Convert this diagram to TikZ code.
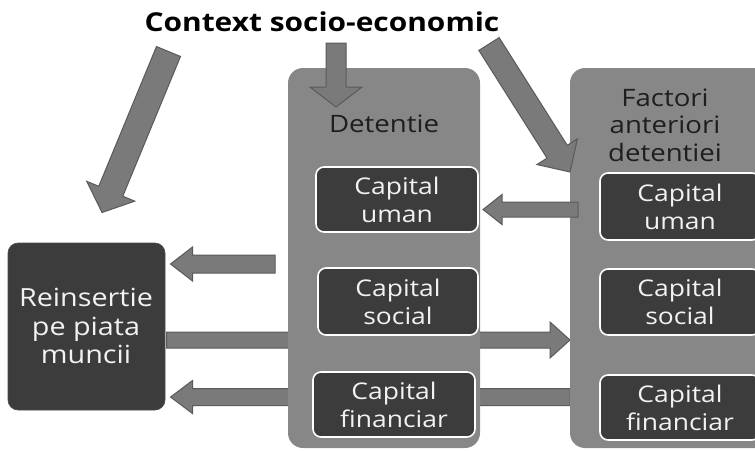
\documentclass[tikz,border=0pt]{standalone}
\usepackage{fontspec}
\setmainfont{Open Sans}[FakeStretch=1.15]
\usetikzlibrary{calc,backgrounds}
\definecolor{boxgray}{HTML}{878787}
\definecolor{darkbox}{HTML}{3C3C3C}
\definecolor{arrgray}{HTML}{7A7A7A}
\definecolor{arredge}{HTML}{5A5A5A}
\definecolor{labeltext}{HTML}{1E1E1E}
\definecolor{innertext}{HTML}{F2F2F2}
% block arrow: [opts]{start}{end}{half shaft}{half head}{head length}
\newcommand\blockarr[6][]{%
  \coordinate (ba-h) at ($(#3)!#6!(#2)$);
  \draw[barrow,#1] ($(#2)!#4!90:(#3)$) -- ($(ba-h)!#4!90:(#3)$)
    -- ($(ba-h)!#5!90:(#3)$) -- (#3) -- ($(ba-h)!#5!-90:(#3)$)
    -- ($(ba-h)!#4!-90:(#3)$) -- ($(#2)!#4!-90:(#3)$) -- cycle;}
\tikzset{
  bigbox/.style={fill=boxgray, draw=none, rounded corners=15pt, inner sep=0pt, outer sep=0pt},
  capbox/.style={fill=darkbox, draw=white, line width=1.6pt, rounded corners=8pt,
    inner sep=0pt, outer sep=0pt, text=innertext, align=center,
    font=\fontsize{23}{28}\selectfont},
  reinbox/.style={fill=darkbox, draw=black!70, line width=0.6pt, rounded corners=10pt,
    inner sep=0pt, outer sep=0pt, text=innertext, align=center,
    font=\fontsize{25}{28.5}\selectfont},
  biglabel/.style={text=labeltext, align=center, inner sep=0pt,
    font=\fontsize{24}{27.5}\selectfont},
  barrow/.style={fill=arrgray, draw=arredge, line width=1pt, line join=miter},
}
\begin{document}
\begin{tikzpicture}[x=1pt, y=-1pt]
\useasboundingbox (0,0) rectangle (755,450);
\clip (0,0) rectangle (755,450);
% title
\node[font=\bfseries\fontsize{26}{30}\selectfont, text=black, inner sep=0pt] (title) at (322,22) {Context socio-economic};
% big containers
\node[bigbox, minimum width=192pt, minimum height=380pt] (det) at (384,258) {};
\node[bigbox, minimum width=220pt, minimum height=380pt] (fac) at (680,258) {};
\node[biglabel] (detl) at (384,124) {Detentie};
\node[biglabel] (facl) at (665,125) {Factori\\anteriori\\detentiei};
% inner boxes
\node[capbox, minimum width=162pt, minimum height=65pt] (du) at (397,199.5) {Capital\\uman};
\node[capbox, minimum width=160pt, minimum height=67pt] (ds) at (398,301.5) {Capital\\social};
\node[capbox, minimum width=162pt, minimum height=65pt] (df) at (394,404.5) {Capital\\financiar};
\node[capbox, minimum width=160pt, minimum height=67pt] (fu) at (680,206.5) {Capital\\uman};
\node[capbox, minimum width=160pt, minimum height=66pt] (fs) at (680,302) {Capital\\social};
\node[capbox, minimum width=160pt, minimum height=65pt] (ff) at (680,407.5) {Capital\\financiar};
% reinsertion
\node[reinbox, minimum width=157pt, minimum height=167pt] (rein) at (86.5,326.5) {};
\node[text=innertext, align=center, inner sep=0pt, font=\fontsize{25}{28.5}\selectfont] (reinl) at (86,326) {Reinsertie\\pe piata\\muncii};
% connector end points
\coordinate (a1s) at (168.5,51.5);
\coordinate (a1e) at ($(rein.north)+(15.5,-30.5)$);
\coordinate (a2s) at (336,43);
\coordinate (a2e) at (336,107);
\coordinate (a3s) at (489,44);
\coordinate (a3e) at ($(fac.north west)+(0,104)$);
\coordinate (a4s) at ($(fu.west)+(-22,3)$);
\coordinate (a4e) at ($(du.east)+(5,10)$);
\coordinate (a5s) at ($(det.west)+(-13,6)$);
\coordinate (a5e) at ($(rein.east)+(5.5,-62.5)$);
\coordinate (a6s) at ($(rein.east)+(1.5,13.5)$);
\coordinate (a6e) at ($(fac.west)+(0,82)$);
\coordinate (a7s) at ($(fac.west)+(0,139)$);
\coordinate (a7e) at ($(rein.east)+(5.5,70.5)$);
% arrows behind the detention box
\begin{pgfonlayer}{background}
\blockarr{a6s}{a6e}{8pt}{18pt}{20pt}
\blockarr{a7s}{a7e}{8.5pt}{16.5pt}{22pt}
\end{pgfonlayer}
% arrows on top
\blockarr{a1s}{a1e}{13pt}{26pt}{23pt}
\blockarr{a2s}{a2e}{10pt}{26pt}{20pt}
\blockarr{a3s}{a3e}{12pt}{24pt}{24pt}
\blockarr{a4s}{a4e}{7.5pt}{15pt}{19pt}
\blockarr{a5s}{a5e}{9pt}{17pt}{22pt}
\end{tikzpicture}
\end{document}
